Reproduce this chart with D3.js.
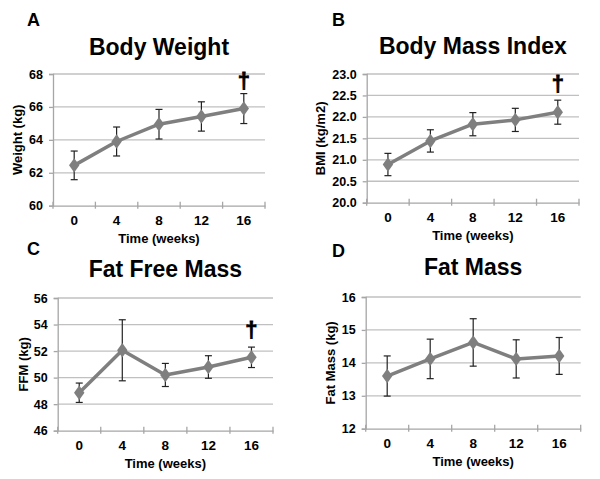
<!DOCTYPE html>
<html><head><meta charset="utf-8">
<script src="https://cdn.jsdelivr.net/npm/d3@7"></script>
<style>
html,body{margin:0;padding:0;background:#fff;}
svg text{font-family:Arial,"Liberation Sans",sans-serif;font-weight:bold;fill:#000;}
</style></head>
<body>
<svg id="chart" width="600" height="479"></svg>
<script>
// ---- data ----
const weeks = ["0", "4", "8", "12", "16"];

const weightMean = [62.45, 63.9, 64.95, 65.42, 65.9];
const weightErr  = [0.87, 0.88, 0.9, 0.89, 0.91];
const weightTicks = [60, 62, 64, 66, 68];

const bmiMean = [20.89, 21.44, 21.83, 21.93, 22.11];
const bmiErr  = [0.26, 0.26, 0.27, 0.27, 0.28];
const bmiTicks = [20.0, 20.5, 21.0, 21.5, 22.0, 22.5, 23.0];

const ffmMean = [48.86, 52.06, 50.2, 50.8, 51.53];
const ffmErr  = [0.73, 2.3, 0.87, 0.85, 0.77];
const ffmTicks = [46, 48, 50, 52, 54, 56];

const fatMean = [13.6, 14.12, 14.62, 14.12, 14.21];
const fatErr  = [0.61, 0.6, 0.72, 0.58, 0.56];
const fatTicks = [12, 13, 14, 15, 16];

const panelLetters = ["A", "B", "C", "D"];
const panelTitles = ["Body Weight", "Body Mass Index", "Fat Free Mass", "Fat Mass"];
const yTitles = ["Weight (kg)", "BMI (kg/m2)", "FFM (kg)", "Fat Mass (kg)"];
const xTitle = "Time (weeks)";
const daggerFlags = [true, true, true, false];

// ---- layout ----
const panels = [
  {mean: weightMean, err: weightErr, ticks: weightTicks, fmt: d3.format("d"),
   l: 53, r: 265, t: 74, b: 205.7, letter: [27, 26], titleY: 55, yTitleX: 17, dagOff: 6},
  {mean: bmiMean, err: bmiErr, ticks: bmiTicks, fmt: d3.format(".1f"),
   l: 366.7, r: 579, t: 74, b: 202.7, letter: [332, 26], titleY: 53.5, yTitleX: 320, dagOff: 9},
  {mean: ffmMean, err: ffmErr, ticks: ffmTicks, fmt: d3.format("d"),
   l: 57.7, r: 273, t: 298, b: 430.7, letter: [27, 255], titleY: 276.5, yTitleX: 23, dagOff: 10},
  {mean: fatMean, err: fatErr, ticks: fatTicks, fmt: d3.format("d"),
   l: 365.7, r: 580.7, t: 297, b: 428.7, letter: [332, 256.5], titleY: 275, yTitleX: 330, dagOff: 8}
];

const svg = d3.select("#chart");
const lineColor = "#7f7f7f";
const gridColor = "#c0c0c0";
const axisColor = "#a6a6a6";

panels.forEach((p, i) => {
  const g = svg.append("g");
  const x = d3.scaleBand().domain(weeks).range([p.l, p.r]);
  const y = d3.scaleLinear().domain(d3.extent(p.ticks)).range([p.b, p.t]);
  const cx = d => x(d) + x.bandwidth() / 2;

  // gridlines (skip bottom)
  g.selectAll(".grid").data(p.ticks.slice(1)).enter().append("line")
    .attr("x1", p.l).attr("x2", p.r)
    .attr("y1", d => y(d)).attr("y2", d => y(d))
    .attr("stroke", gridColor).attr("stroke-width", 1.3);

  // y axis
  const yAxis = d3.axisLeft(y).tickValues(p.ticks).tickFormat(p.fmt).tickSize(4).tickPadding(6);
  const ya = g.append("g").attr("transform", `translate(${p.l},0)`).call(yAxis);
  ya.select(".domain").attr("stroke", axisColor).attr("stroke-width", 1.3);
  ya.selectAll(".tick line").attr("stroke", axisColor).attr("stroke-width", 1.3);
  ya.selectAll(".tick text").style("font-size", "12.5px").attr("fill", "#000");

  // x axis
  const xa = g.append("g").attr("transform", `translate(0,${p.b})`)
    .call(d3.axisBottom(x).tickSize(0).tickPadding(10));
  xa.select(".domain").attr("stroke", axisColor).attr("stroke-width", 1.3);
  xa.selectAll(".tick text").style("font-size", "13.5px").attr("fill", "#000");
  // cross tick marks at category boundaries
  const bounds = weeks.map(w => x(w)).concat([p.r]);
  g.selectAll(".xt").data(bounds).enter().append("line")
    .attr("x1", d => d).attr("x2", d => d)
    .attr("y1", p.b - 4).attr("y2", p.b + 3)
    .attr("stroke", axisColor).attr("stroke-width", 1.3);

  // error bars
  const eb = g.selectAll(".eb").data(weeks).enter().append("g");
  eb.append("line")
    .attr("x1", d => cx(d)).attr("x2", d => cx(d))
    .attr("y1", (d, j) => y(p.mean[j] + p.err[j]))
    .attr("y2", (d, j) => y(p.mean[j] - p.err[j]))
    .attr("stroke", "#222").attr("stroke-width", 1.2);
  [1, -1].forEach(s => {
    eb.append("line")
      .attr("x1", d => cx(d) - 3.5).attr("x2", d => cx(d) + 3.5)
      .attr("y1", (d, j) => y(p.mean[j] + s * p.err[j]))
      .attr("y2", (d, j) => y(p.mean[j] + s * p.err[j]))
      .attr("stroke", "#222").attr("stroke-width", 1.2);
  });

  // line
  const line = d3.line().x((d, j) => cx(weeks[j])).y(d => y(d));
  g.append("path").datum(p.mean).attr("d", line)
    .attr("fill", "none").attr("stroke", lineColor).attr("stroke-width", 3.5)
    .attr("stroke-linejoin", "round");

  // diamond markers
  const sym = d3.symbol().type(d3.symbolDiamond).size(60);
  g.selectAll(".mk").data(p.mean).enter().append("path")
    .attr("d", sym)
    .attr("transform", (d, j) => `translate(${cx(weeks[j])},${y(d)}) scale(1.25,1)`)
    .attr("fill", lineColor);

  // dagger
  if (daggerFlags[i]) {
    const last = weeks.length - 1;
    g.append("text")
      .attr("x", cx(weeks[last]))
      .attr("y", y(p.mean[last] + p.err[last]) - p.dagOff)
      .attr("text-anchor", "middle")
      .style("font-size", "22px")
      .attr("stroke", "#000").attr("stroke-width", 0.8)
      .text("\u2020");
  }

  // titles
  g.append("text").attr("x", p.letter[0]).attr("y", p.letter[1])
    .style("font-size", "18px").text(panelLetters[i]);
  g.append("text").attr("x", (p.l + p.r) / 2).attr("y", p.titleY)
    .attr("text-anchor", "middle").style("font-size", "23px").text(panelTitles[i]);
  g.append("text").attr("x", (p.l + p.r) / 2).attr("y", p.b + 37)
    .attr("text-anchor", "middle").style("font-size", "13px").text(xTitle);
  g.append("text")
    .attr("transform", `translate(${p.yTitleX},${(p.t + p.b) / 2}) rotate(-90)`)
    .attr("text-anchor", "middle").attr("dy", "0.35em")
    .style("font-size", "13px").text(yTitles[i]);
});
</script>
</body></html>
